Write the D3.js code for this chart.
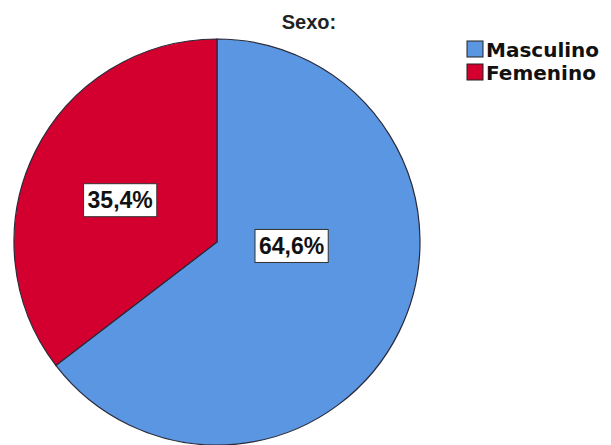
<!DOCTYPE html>
<html><head><meta charset="utf-8">
<script src="https://cdn.jsdelivr.net/npm/d3@7"></script>
<style>html,body{margin:0;padding:0;background:#fff;}svg{display:block;}</style>
</head><body>
<svg id="chart" width="611" height="445"></svg>
<script>
const title = "Sexo:";
const categories = ["Masculino", "Femenino"];
const values = [64.6, 35.4];
const colors = ["#5a96e1", "#d3002f"];

const svg = d3.select("#chart");
const cx = 217, cy = 242, r = 203;
const font = "'Liberation Sans', Arial, sans-serif";
const legFont = "'DejaVu Sans', Verdana, sans-serif";

svg.append("text").attr("x", 309).attr("y", 29).attr("text-anchor", "middle")
  .attr("font-family", font).attr("font-size", 20).attr("font-weight", "bold")
  .attr("fill", "#222").text(title);

const data = categories.map((c, i) => ({cat: c, value: values[i], color: colors[i]}));
const pie = d3.pie().value(d => d.value).sort(null);
const arcs = pie(data);
const arc = d3.arc().innerRadius(0).outerRadius(r);
const g = svg.append("g").attr("transform", `translate(${cx},${cy})`);
g.selectAll("path").data(arcs).join("path")
  .attr("d", arc).attr("fill", d => d.data.color)
  .attr("stroke", "#2a2a3a").attr("stroke-width", 1.2);

const fmt = v => d3.format(".1f")(v).replace(".", ",") + "%";
arcs.forEach((a, i) => {
  const half = (a.endAngle - a.startAngle) / 2;
  const mid = (a.startAngle + a.endAngle) / 2;
  let dist = 2 * r * Math.sin(half) / (3 * half);
  let x = Math.sin(mid) * dist, y = -Math.cos(mid) * dist;
  if (i === 0) { x += 21; y -= 23; } else { x += 1; y += 6; }
  const lg = g.append("g").attr("transform", `translate(${x},${y})`);
  const t = lg.append("text").attr("text-anchor", "middle").attr("dy", "0.36em")
    .attr("font-family", font).attr("font-size", 23).attr("font-weight", "bold")
    .attr("fill", "#111").text(fmt(a.data.value));
  const bb = t.node().getBBox();
  lg.insert("rect", "text").attr("x", bb.x - 4).attr("y", -16).attr("width", bb.width + 8)
    .attr("height", 33).attr("fill", "#fff").attr("stroke", "#333").attr("stroke-width", 1);
});

const leg = svg.append("g").attr("transform", "translate(467,41)");
data.forEach((d, i) => {
  const row = leg.append("g").attr("transform", `translate(0,${i * 23})`);
  row.append("rect").attr("x", 0).attr("y", 0).attr("width", 16).attr("height", 16)
    .attr("fill", d.color).attr("stroke", "#222").attr("stroke-width", 1);
  row.append("text").attr("x", 19).attr("y", 15.5).attr("font-family", legFont)
    .attr("font-size", 20).attr("font-weight", "bold").attr("fill", "#111").text(d.cat);
});
</script>
</body></html>
